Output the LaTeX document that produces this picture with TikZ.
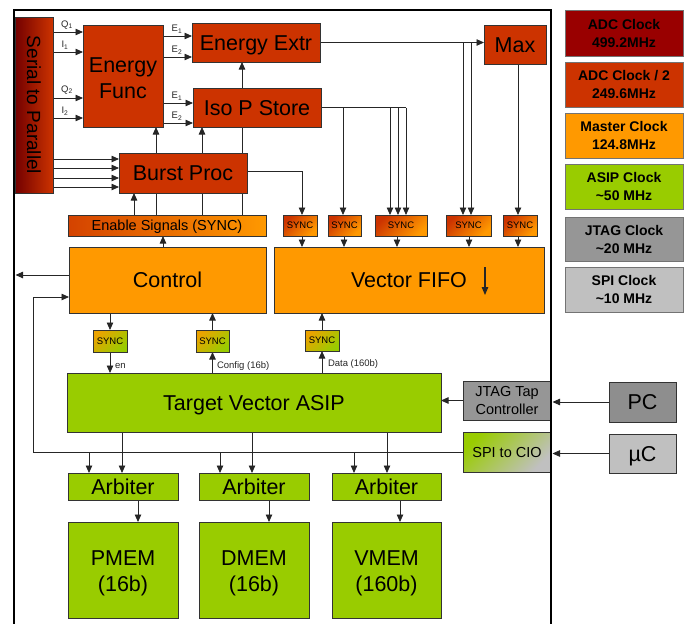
\documentclass[tikz,border=0pt]{standalone}
\usepackage{fontspec}
\setmainfont{Liberation Sans}
\usetikzlibrary{arrows.meta,backgrounds}
\definecolor{cadc}{HTML}{990000}
\definecolor{cadcb}{HTML}{CC3300}
\definecolor{cmas}{HTML}{FF9900}
\definecolor{casip}{HTML}{99CC00}
\definecolor{cjtag}{HTML}{969696}
\definecolor{cspi}{HTML}{C0C0C0}
\newcommand\fbig{\fontsize{21.5}{25.5}\selectfont}
\newcommand\fser{\fontsize{19}{22}\selectfont}
\newcommand\fmid{\fontsize{14.5}{18}\selectfont}
\newcommand\fsync{\fontsize{9.5}{11}\selectfont}
\newcommand\flab{\fontsize{9.5}{11}\selectfont}
\newcommand\fleg{\fontsize{14}{18}\selectfont\bfseries}
\newcommand\toppad{\rule{0pt}{21pt}}
\newcommand\toppadb{\rule{0pt}{19pt}}
\begin{document}
\begin{tikzpicture}[x=1pt,y=-1pt,
  every node/.style={inner sep=0pt,outer sep=0pt},
  blk/.style={draw=black!80,line width=0.6pt,anchor=north west,align=center,font=\fbig},
  cbig/.style={text height=15.4pt,text depth=0pt},
  cmid/.style={text height=10.4pt,text depth=0pt},
  rblk/.style={blk,fill=cadcb},
  oblk/.style={blk,fill=cmas},
  gblk/.style={blk,fill=casip},
  syt/.style={blk,font=\fsync,top color=cadcb,bottom color=cmas,shading angle=45},
  syb/.style={blk,font=\fsync,top color=cmas!80!casip,bottom color=casip,shading angle=45},
  leg/.style={draw=black!55,line width=0.8pt,anchor=north west,align=center,font=\fleg,minimum width=118pt},
  ln/.style={draw=black!85,line width=0.8pt},
  arr/.style={ln,-{Triangle[length=7.5pt,width=6.5pt]}},
  lab/.style={font=\flab,text=black!85}
]
\useasboundingbox (0,0) rectangle (691,624);
\clip (0,0) rectangle (691,624);

% ---- blocks ----
\node[rblk,left color=cadc!75!black,right color=cadcb,minimum width=38pt,minimum height=176pt] (s2p) at (15,17) {};
\node[rotate=-90,font=\fser] (s2pt) at (s2p.center) {Serial to Parallel};
\node[rblk,minimum width=80pt,minimum height=102pt] (efunc) at (83,25) {\toppadb Energy\\Func};
\node[rblk,cbig,minimum width=128pt,minimum height=39pt] (eextr) at (192,23) {Energy Extr};
\node[rblk,cbig,minimum width=128pt,minimum height=39pt] (iso) at (193,88) {Iso P Store};
\node[rblk,cbig,minimum width=128pt,minimum height=40pt] (burst) at (119,153) {Burst Proc};
\node[rblk,cbig,minimum width=62pt,minimum height=39pt] (max) at (484,25) {Max};
\node[blk,cmid,font=\fmid,left color=cadcb!85!cmas,right color=cmas,minimum width=198pt,minimum height=21pt] (enable) at (68,215) {Enable Signals (SYNC)};
\node[oblk,cbig,minimum width=197pt,minimum height=66pt] (control) at (69,247) {Control};
\node[oblk,cbig,minimum width=270pt,minimum height=66pt] (fifo) at (274,247) {Vector FIFO};
\node[syt,minimum width=34pt,minimum height=21pt] (sy1) at (283,215) {SYNC};
\node[syt,minimum width=33pt,minimum height=21pt] (sy2) at (328,215) {SYNC};
\node[syt,minimum width=52pt,minimum height=21pt] (sy3) at (375,215) {SYNC};
\node[syt,minimum width=45pt,minimum height=21pt] (sy4) at (446,215) {SYNC};
\node[syt,minimum width=34pt,minimum height=21pt] (sy5) at (503,215) {SYNC};
\node[syb,minimum width=34pt,minimum height=22pt] (syen) at (93,330) {SYNC};
\node[syb,minimum width=33pt,minimum height=22pt] (sycf) at (196,330) {SYNC};
\node[syb,minimum width=34pt,minimum height=21pt] (sydt) at (305,330) {SYNC};
\node[gblk,cbig,minimum width=374pt,minimum height=59pt] (asip) at (67,373) {Target Vector ASIP};
\node[blk,font=\fmid,fill=cjtag,minimum width=88pt,minimum height=39pt] (jtag) at (463,381) {JTAG Tap\\Controller};
\node[blk,cmid,font=\fmid,top color=casip,bottom color=cspi,shading angle=45,minimum width=88pt,minimum height=40pt] (spi) at (463,432) {SPI to CIO};
\node[blk,cbig,fill=cjtag!95!black,minimum width=67pt,minimum height=40pt] (pc) at (609,382) {PC};
\node[blk,cbig,fill=cspi,minimum width=67pt,minimum height=39pt] (uc) at (609,434) {µC};
\node[gblk,cbig,minimum width=110pt,minimum height=27pt] (arb1) at (68,473) {Arbiter};
\node[gblk,cbig,minimum width=110pt,minimum height=27pt] (arb2) at (199,473) {Arbiter};
\node[gblk,cbig,minimum width=109pt,minimum height=27pt] (arb3) at (332,473) {Arbiter};
\node[gblk,minimum width=110pt,minimum height=96pt] (pmem) at (68,522) {\toppad PMEM\\(16b)};
\node[gblk,minimum width=110pt,minimum height=96pt] (dmem) at (199,522) {\toppad DMEM\\(16b)};
\node[gblk,minimum width=109pt,minimum height=96pt] (vmem) at (332,522) {\toppad VMEM\\(160b)};

% ---- legend ----
\node[leg,fill=cadc,minimum height=46pt] (l1) at (565,10) {ADC Clock\\499.2MHz};
\node[leg,fill=cadcb,minimum height=45pt] (l2) at (565,62) {ADC Clock / 2\\249.6MHz};
\node[leg,fill=cmas,minimum height=45pt] (l3) at (565,113) {Master Clock\\124.8MHz};
\node[leg,fill=casip,minimum height=45pt] (l4) at (565,164) {ASIP Clock\\\textasciitilde50 MHz};
\node[leg,fill=cjtag,minimum height=44pt] (l5) at (565,217) {JTAG Clock\\\textasciitilde20 MHz};
\node[leg,fill=cspi,minimum height=45pt] (l6) at (565,267) {SPI Clock\\\textasciitilde10 MHz};

% ---- frame ----
\coordinate (fl) at (15.5,0);
\coordinate (fr) at (552.5,0);
\coordinate (xl) at (33,0);
\draw[line width=2.2pt,black] (14,640) -- (14,10) -- (551,10) -- (551,640);

% ---- labels ----
\node[lab] (q1) at (67,25) {Q\textsubscript{1}};
\node[lab] (i1) at (65,45) {I\textsubscript{1}};
\node[lab] (q2) at (67,90) {Q\textsubscript{2}};
\node[lab] (i2) at (65,111) {I\textsubscript{2}};
\node[lab] (e1a) at (177,29) {E\textsubscript{1}};
\node[lab] (e2a) at (177,50) {E\textsubscript{2}};
\node[lab] (e1b) at (177,96) {E\textsubscript{1}};
\node[lab] (e2b) at (177,116) {E\textsubscript{2}};
\node[lab,anchor=west] (len) at (115,366) {en};
\node[lab,anchor=west] (lcf) at (217,366) {Config (16b)};
\node[lab,anchor=west] (ldt) at (328,364) {Data (160b)};

% ---- connectors ----
\begin{scope}[on background layer]
\foreach \y in {32,52,98,118} \draw[arr] (s2p.east |- 0,\y) -- (efunc.west |- 0,\y);
\foreach \y in {159,168,178,187} \draw[arr] (s2p.east |- 0,\y) -- (burst.west |- 0,\y);
\foreach \y in {36,57} \draw[arr] (efunc.east |- 0,\y) -- (eextr.west |- 0,\y);
\foreach \y in {103,123} \draw[arr] (efunc.east |- 0,\y) -- (iso.west |- 0,\y);
\draw[arr] (enable.north -| 134,0) -- (burst.south -| 134,0);
\draw[arr] (enable.north -| 156,0) -- (efunc.south -| 156,0);
\draw[arr] (enable.north -| 202,0) -- (iso.south -| 202,0);
\draw[arr] (enable.north -| 242,0) -- (eextr.south -| 242,0);
\draw[arr] (control.north -| 163,0) -- (enable.south -| 163,0);
\draw[arr] (burst.east |- 0,171) -| (sy1.north -| 302,0);
\draw[ln] (iso.east) -- (iso.east -| 406,0);
\draw[arr] (iso.east -| 343,0) -- (sy2.north -| 343,0);
\foreach \x in {390,398,406} \draw[arr] (iso.east -| \x,0) -- (sy3.north -| \x,0);
\draw[arr] (eextr.east) -- (max.west |- eextr.east);
\foreach \x in {463,471} \draw[arr] (eextr.east -| \x,0) -- (sy4.north -| \x,0);
\draw[arr] (max.south -| 518,0) -- (sy5.north -| 518,0);
\foreach \x/\s in {302/sy1,344/sy2,397/sy3,469/sy4,518/sy5} \draw[arr] (\s.south -| \x,0) -- (fifo.north -| \x,0);
\draw[arr] (control.south -| syen.north) -- (syen.north);
\draw[arr] (syen.south) -- (asip.north -| syen.south);
\draw[arr] (asip.north -| sycf.south) -- (sycf.south);
\draw[arr] (sycf.north) -- (control.south -| sycf.north);
\draw[arr] (asip.north -| sydt.south) -- (sydt.south);
\draw[arr] (sydt.north) -- (fifo.south -| sydt.north);
\draw[arr] ([yshift=5pt]control.west) -- ([yshift=5pt]control.west -| fl);
\draw[arr] (spi.west) -- (spi.west -| xl) |- ([yshift=-17pt]control.west);
\foreach \x/\a in {89/arb1,220/arb2,354/arb3} \draw[arr] (spi.west -| \x,0) -- (\a.north -| \x,0);
\foreach \x/\a in {122/arb1,252/arb2,387/arb3} \draw[arr] (asip.south -| \x,0) -- (\a.north -| \x,0);
\foreach \x/\a/\m in {138/arb1/pmem,269/arb2/dmem,400/arb3/vmem} \draw[arr] (\a.south -| \x,0) -- (\m.north -| \x,0);
\draw[arr] (jtag.west) -- (asip.east |- jtag.west);
\draw[arr] (pc.west) -- (pc.west -| fr);
\draw[arr] (uc.west) -- (uc.west -| fr);
\end{scope}
\draw[ln,line width=1.1pt,-{Triangle[length=8pt,width=6.5pt]}] ([xshift=76pt,yshift=13pt]fifo.center) -- ([xshift=76pt,yshift=-15pt]fifo.center);
\end{tikzpicture}
\end{document}
